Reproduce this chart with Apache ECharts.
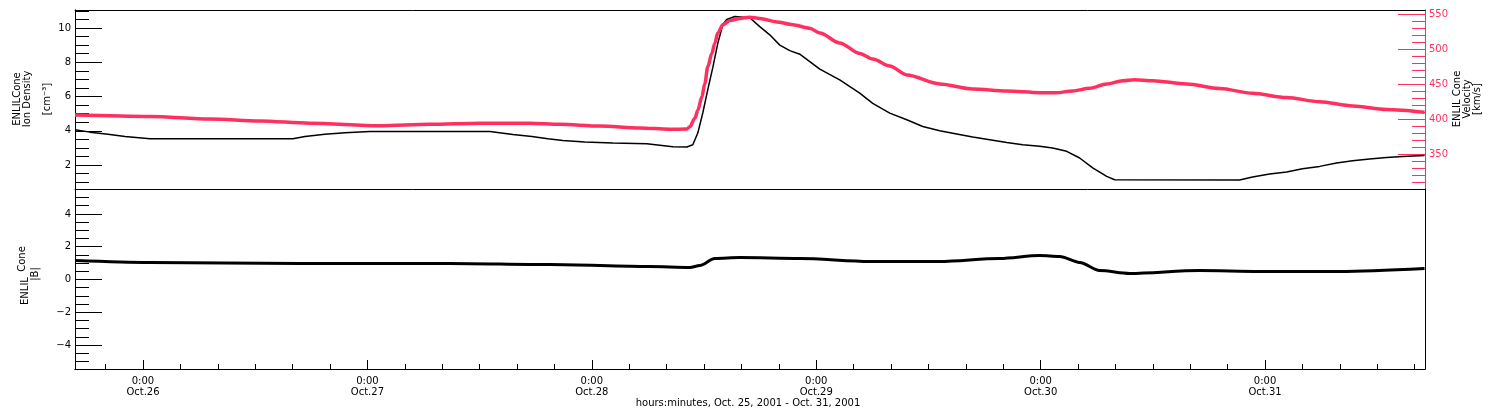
<!DOCTYPE html>
<html>
<head>
<meta charset="utf-8">
<script src="https://cdn.jsdelivr.net/npm/echarts@6/dist/echarts.min.js"></script>
<style>html,body{margin:0;padding:0;background:#fff;}#c{width:1500px;height:410px;}</style>
</head>
<body>
<div id="c"></div>
<script>
// ---- data (time in hours since 2001-10-25 00:00) ----
const densityHours = [16.73,18.33,20.26,22.08,24.75,40.04,41.32,43.46,45.6,48.27,61.1,63.56,65.59,67.3,68.9,71.25,74.25,77.88,80.66,82.16,82.8,83.34,83.87,84.4,84.94,85.47,86.01,86.43,87.29,88.89,89.96,91.03,92.1,93.17,94.24,95.31,96.38,98.51,100.65,102.04,103.86,105.68,107.39,109.2,111.02,112.73,114.55,116.37,118.08,119.9,121.28,122.78,124.17,125.56,127.06,127.91,141.27,142.66,144.48,146.3,148.0,149.83,151.64,153.36,155.17,156.99,158.7,161.05];
const densityValues = [4.06,3.92,3.8,3.67,3.53,3.53,3.67,3.8,3.88,3.96,3.96,3.78,3.67,3.53,3.43,3.34,3.28,3.24,3.07,3.05,3.18,3.88,5.05,6.4,7.7,9.1,10.2,10.5,10.67,10.6,10.08,9.6,9.0,8.68,8.47,8.04,7.6,6.97,6.2,5.6,5.03,4.64,4.25,4.0,3.81,3.63,3.48,3.32,3.18,3.09,2.99,2.8,2.41,1.83,1.34,1.14,1.12,1.3,1.48,1.59,1.78,1.92,2.12,2.25,2.35,2.44,2.5,2.56];

const velocityHours = [16.73,24.75,31.16,36.51,41.85,49.34,54.68,60.03,65.37,68.58,72.86,77.13,80.34,82.16,82.48,83.02,83.34,83.77,84.08,84.4,84.83,85.15,85.47,86.01,86.76,87.83,88.89,89.96,91.78,93.49,95.31,96.38,98.51,100.65,102.04,103.86,105.68,109.2,112.73,116.37,119.9,121.6,123.42,125.24,127.06,128.77,130.05,131.98,135.61,139.14,142.66,146.3,149.83,153.36,156.99,161.05];
const velocityValues = [406,404,400.4,397.6,394.3,390.6,392.8,394.3,394.3,392.8,390.4,387.6,385.7,386,389.4,401.4,413,432,451,475,494,508.6,523,535,541,544,545.7,544,539,535,530,523,509,494,486,476,463.3,450.4,443.3,440.4,438,437.8,440.4,444.3,450.4,455.1,456.5,455,450.4,444,437,431,425,419,414,410];

const bHours = [16.73,24.75,40.78,56.82,67.51,78.2,82.48,83.55,85.15,87.83,94.24,101.72,109.2,115.62,119.9,122.03,124.17,126.31,129.52,137.0,143.41,151.96,161.05];
const bValues = [1.16,1.04,0.98,0.98,0.91,0.79,0.73,0.85,1.28,1.34,1.28,1.1,1.1,1.28,1.46,1.4,1.04,0.55,0.37,0.55,0.49,0.49,0.67];

// ---- ticks / labels ----
const dayTickHours = [24,48,72,96,120,144];
const dayTickLabels = ['0:00\nOct.26','0:00\nOct.27','0:00\nOct.28','0:00\nOct.29','0:00\nOct.30','0:00\nOct.31'];
const hourTickHours = [20,28,32,36,40,44,52,56,60,64,68,76,80,84,88,92,100,104,108,112,116,124,128,132,136,140,148,152,156,160];
const densityMajorTicks = [2,4,6,8,10];
const densityMinorTicks = [1,1.5,2.5,3,3.5,4.5,5,5.5,6.5,7,7.5,8.5,9,9.5,10.5,11];
const velocityMajorTicks = [350,400,450,500,550];
const velocityMinorTicks = [310,320,330,340,360,370,380,390,410,420,430,440,460,470,480,490,510,520,530,540];
const bMajorTicks = [-4,-2,0,2,4];
const bMinorTicks = [-5,-4.5,-3.5,-3,-2.5,-1.5,-1,-0.5,0.5,1,1.5,2.5,3,3.5,4.5,5];
const xTitle = 'hours:minutes, Oct. 25, 2001 - Oct. 31, 2001';

const X_MIN = 16.73, X_MAX = 161.1;
const RED = '#ff3060';
const FONT = 'DejaVu Sans';

function zip(a, b) { return a.map((v, i) => [v, b[i]]); }

const chart = echarts.init(document.getElementById('c'), null, {renderer: 'canvas'});

function xAx(grid, opts) {
  return Object.assign({
    type: 'value', gridIndex: grid, min: X_MIN, max: X_MAX, position: 'bottom',
    axisLine: {show: true, onZero: false, lineStyle: {color: '#000', width: 1}},
    axisTick: {show: false}, axisLabel: {show: false}, splitLine: {show: false}
  }, opts);
}
function yAx(grid, min, max, pos, opts) {
  return Object.assign({
    type: 'value', gridIndex: grid, min: min, max: max, position: pos,
    axisLine: {show: true, onZero: false, lineStyle: {color: '#000', width: 1}},
    axisTick: {show: false}, axisLabel: {show: false}, splitLine: {show: false}
  }, opts);
}

const option = {
  animation: false,
  backgroundColor: '#fff',
  grid: [
    {left: 75, right: 75, top: 10, height: 179, containLabel: false, outerBoundsMode: 'none'},
    {left: 75, right: 75, top: 189, height: 180, containLabel: false, outerBoundsMode: 'none'}
  ],
  xAxis: [
    xAx(0, {}),
    xAx(0, {position: 'top'}),
    xAx(1, {
      axisTick: {show: true, inside: true, length: 9, customValues: dayTickHours, lineStyle: {color: '#000'}},
      axisLabel: {show: true, customValues: dayTickHours, margin: 7, color: '#000', fontFamily: FONT, fontSize: 10, lineHeight: 11,
        formatter: v => { const i = dayTickHours.findIndex(d => Math.abs(d - v) < 1e-6); return i >= 0 ? dayTickLabels[i] : ''; }}
    }),
    xAx(1, {
      axisTick: {show: true, inside: true, length: 5, customValues: hourTickHours, lineStyle: {color: '#000'}}
    })
  ],
  yAxis: [
    yAx(0, 0.6, 11.05, 'left', {
      axisTick: {show: true, inside: true, length: 27, customValues: densityMajorTicks, lineStyle: {color: '#000'}},
      axisLabel: {show: true, customValues: densityMajorTicks, margin: 4, color: '#000', fontFamily: FONT, fontSize: 10}
    }),
    yAx(0, 0.6, 11.05, 'left', {
      axisTick: {show: true, inside: true, length: 14, customValues: densityMinorTicks, lineStyle: {color: '#000'}}
    }),
    yAx(0, 300.4, 556, 'right', {
      axisLine: {show: true, onZero: false, lineStyle: {color: RED, width: 1}},
      axisTick: {show: true, inside: true, length: 27, customValues: velocityMajorTicks, lineStyle: {color: RED}},
      axisLabel: {show: true, customValues: velocityMajorTicks, margin: 4, color: RED, fontFamily: FONT, fontSize: 10}
    }),
    yAx(0, 300.4, 556, 'right', {
      axisLine: {show: true, onZero: false, lineStyle: {color: RED, width: 1}},
      axisTick: {show: true, inside: true, length: 13, customValues: velocityMinorTicks, lineStyle: {color: RED}}
    }),
    yAx(1, -5.46, 5.52, 'left', {
      axisTick: {show: true, inside: true, length: 27, customValues: bMajorTicks, lineStyle: {color: '#000'}},
      axisLabel: {show: true, customValues: bMajorTicks, margin: 4, color: '#000', fontFamily: FONT, fontSize: 10,
        formatter: v => (v < 0 ? '\u2212' + Math.abs(v) : String(v))}
    }),
    yAx(1, -5.46, 5.52, 'left', {
      axisTick: {show: true, inside: true, length: 14, customValues: bMinorTicks, lineStyle: {color: '#000'}}
    }),
    yAx(1, -5.46, 5.52, 'right', {})
  ],
  series: [
    {type: 'line', xAxisIndex: 0, yAxisIndex: 0, data: zip(densityHours, densityValues), symbol: 'none',
      lineStyle: {color: '#000', width: 1.5}, z: 3},
    {type: 'line', xAxisIndex: 0, yAxisIndex: 2, data: zip(velocityHours, velocityValues), symbol: 'none',
      smooth: 0.3, smoothMonotone: 'x', lineStyle: {color: RED, width: 3.5}, z: 4},
    {type: 'line', xAxisIndex: 2, yAxisIndex: 4, data: zip(bHours, bValues), symbol: 'none',
      smooth: 0.3, smoothMonotone: 'x', lineStyle: {color: '#000', width: 3}, z: 3}
  ],
  graphic: [
    {type: 'text', x: 17, y: 99, rotation: Math.PI / 2, style: {text: 'ENLILCone', font: '10px ' + FONT, fill: '#000', align: 'center', verticalAlign: 'middle'}},
    {type: 'text', x: 27, y: 99, rotation: Math.PI / 2, style: {text: 'Ion Density', font: '10px ' + FONT, fill: '#000', align: 'center', verticalAlign: 'middle'}},
    {type: 'text', x: 47, y: 99, rotation: Math.PI / 2, style: {text: '[cm\u207B\u00B3]', font: '10px ' + FONT, fill: '#000', align: 'center', verticalAlign: 'middle'}},
    {type: 'text', x: 25, y: 291, rotation: Math.PI / 2, style: {text: 'ENLIL', font: '10px ' + FONT, fill: '#000', align: 'center', verticalAlign: 'middle'}},
    {type: 'text', x: 22, y: 259, rotation: Math.PI / 2, style: {text: 'Cone', font: '10px ' + FONT, fill: '#000', align: 'center', verticalAlign: 'middle'}},
    {type: 'text', x: 35, y: 274, rotation: Math.PI / 2, style: {text: '|B|', font: '10px ' + FONT, fill: '#000', align: 'center', verticalAlign: 'middle'}},
    {type: 'text', x: 1457, y: 99, rotation: Math.PI / 2, style: {text: 'ENLIL Cone', font: '10px ' + FONT, fill: '#000', align: 'center', verticalAlign: 'middle'}},
    {type: 'text', x: 1467, y: 99, rotation: Math.PI / 2, style: {text: 'Velocity', font: '10px ' + FONT, fill: '#000', align: 'center', verticalAlign: 'middle'}},
    {type: 'text', x: 1477, y: 99, rotation: Math.PI / 2, style: {text: '[km/s]', font: '10px ' + FONT, fill: '#000', align: 'center', verticalAlign: 'middle'}},
    {type: 'text', x: 748, y: 403, style: {text: xTitle, font: '10px ' + FONT, fill: '#000', align: 'center', verticalAlign: 'middle'}}
  ]
};
chart.setOption(option);
</script>
</body>
</html>
